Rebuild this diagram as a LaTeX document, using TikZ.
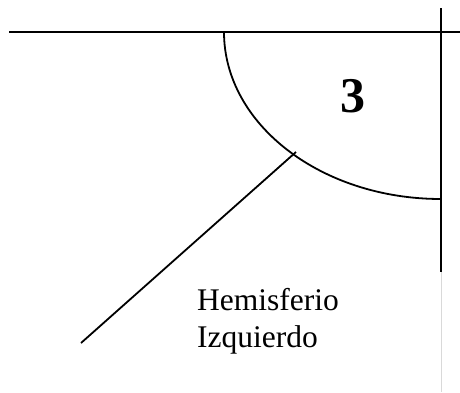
\documentclass[tikz,border=0pt]{standalone}
\usepackage{fontspec}
\setmainfont{Liberation Serif}
\begin{document}
\begin{tikzpicture}[x=1pt,y=-1pt,
  ln/.style={line width=1.8pt,black},
  lbl/.style={inner sep=0pt,anchor=base west,font=\fontsize{31.5}{37}\selectfont}]
\useasboundingbox (0,0) rectangle (460,392);
\coordinate (hl) at (9,32);
\coordinate (hr) at (460,32);
\coordinate (vt) at (441,8);
\coordinate (vb) at (441,272);
\coordinate (gb) at (441,392);
\coordinate (as) at (224,32);
\coordinate (d1) at (81,343);
\coordinate (d2) at (296,152);
\draw[ln] (hl) -- (hr);
\draw[ln] (vt) -- (vb);
\draw[line width=1pt,black!15] (vb) -- (gb);
\draw[ln] (as) arc[start angle=180,end angle=270,x radius=217,y radius=-167];
\draw[ln] (d1) -- (d2);
\node[inner sep=0pt,font=\fontsize{50}{50}\bfseries\selectfont,anchor=base] (n3) at (353,112) {3};
\node[lbl] (h1) at (197,310) {Hemisferio};
\node[lbl] (h2) at (197,347) {Izquierdo};
\end{tikzpicture}
\end{document}
